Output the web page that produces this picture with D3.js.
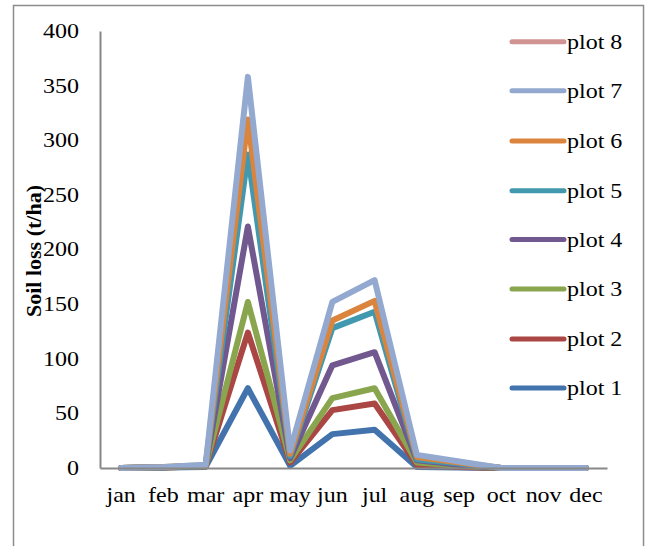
<!DOCTYPE html>
<html>
<head>
<meta charset="utf-8">
<script src="https://cdn.jsdelivr.net/npm/d3@7"></script>
<style>
  body { margin: 0; background: #fff; }
  text { font-family: "Liberation Serif", "Times New Roman", serif; }
</style>
</head>
<body>
<svg width="647" height="546"></svg>
<script>
const months = ["jan", "feb", "mar", "apr", "may", "jun", "jul", "aug", "sep", "oct", "nov", "dec"];
const seriesNames = ["plot 1", "plot 2", "plot 3", "plot 4", "plot 5", "plot 6", "plot 7", "plot 8"];
const colors = ["#4373AC", "#AA4643", "#89A54E", "#71588F", "#4198AF", "#DB843D", "#93A9CF", "#D19392"];
const yTicks = [0, 50, 100, 150, 200, 250, 300, 350, 400];

const plot1 = [0, 0.5, 1, 73, 2, 31, 35, 1, 0.5, 0, 0, 0];
const plot2 = [0, 0.5, 1.5, 124, 5, 53, 59, 3, 1, 0, 0, 0];
const plot3 = [0, 0.5, 1.5, 152, 7, 64, 73, 5, 2, 0, 0, 0];
const plot4 = [0, 0.8, 2, 221, 9, 94, 106, 7, 3, 0, 0, 0];
const plot5 = [0, 0.8, 2, 287, 11, 128, 143, 8, 4, 0, 0, 0];
const plot6 = [0, 1, 2.5, 319, 13, 135, 153, 10, 5, 0, 0, 0];
const plot7 = [0, 1, 3, 358, 16, 152, 172, 12, 6, 0, 0, 0];
const plot8 = []; // in legend, no visible line

const allSeries = [plot1, plot2, plot3, plot4, plot5, plot6, plot7, plot8];

const svg = d3.select("svg");
const margin = { top: 31, left: 100, right: 607, bottom: 468 };
const stretch = "scale(1.2,1)"; // text in the picture is a bit wide

// outer frame
svg.append("rect")
  .attr("x", 13.5).attr("y", 5.5)
  .attr("width", 630).attr("height", 560)
  .attr("fill", "none")
  .attr("stroke", "#8c8c8c")
  .attr("stroke-width", 1.5);

const x = d3.scaleBand().domain(months).range([margin.left, margin.right]);
const y = d3.scaleLinear().domain([0, 400]).range([margin.bottom, margin.top]);

// y axis
const yAxis = svg.append("g")
  .attr("transform", `translate(${margin.left},0)`)
  .call(d3.axisLeft(y).tickValues(yTicks).tickSize(0));
yAxis.select(".domain").attr("stroke", "#888").attr("stroke-width", 2);
yAxis.selectAll("text")
  .attr("x", 0)
  .attr("transform", `translate(-21,0) ${stretch}`)
  .attr("font-size", 20)
  .attr("fill", "#000")
  .style("font-family", "'Liberation Serif', serif");

// y title
svg.append("text")
  .attr("transform", "translate(41,251) rotate(-90)")
  .attr("text-anchor", "middle")
  .attr("font-size", 22)
  .attr("font-weight", "bold")
  .text("Soil loss (t/ha)");

// lines
const line = d3.line()
  .x((d, i) => x(months[i]) + x.bandwidth() / 2)
  .y(d => y(d));

allSeries.forEach((vals, i) => {
  if (!vals.length) return;
  svg.append("path")
    .datum(vals)
    .attr("d", line)
    .attr("fill", "none")
    .attr("stroke", colors[i])
    .attr("stroke-width", 6)
    .attr("stroke-linejoin", "round")
    .attr("stroke-linecap", "round");
});

// x axis (drawn over lines)
const xAxis = svg.append("g")
  .attr("transform", `translate(0,${margin.bottom})`)
  .call(d3.axisBottom(x).tickSize(0).tickPadding(20).tickSizeOuter(0));
xAxis.select(".domain").attr("stroke", "#888").attr("stroke-width", 2);
xAxis.selectAll("text")
  .attr("transform", stretch)
  .attr("font-size", 20)
  .attr("fill", "#000")
  .style("font-family", "'Liberation Serif', serif");
xAxis.selectAll(".tick text").each(function () {
  // scale around tick centre
  d3.select(this).attr("transform", stretch);
});

// legend, plot 8 on top
const legendY = [41.7, 90.7, 141, 190.7, 239.5, 289, 339, 388];
const legend = svg.append("g");
seriesNames.slice().reverse().forEach((name, k) => {
  const i = seriesNames.length - 1 - k;
  const g = legend.append("g").attr("transform", `translate(0,${legendY[k]})`);
  g.append("line")
    .attr("x1", 512).attr("x2", 564)
    .attr("stroke", colors[i])
    .attr("stroke-width", 5)
    .attr("stroke-linecap", "round");
  g.append("text")
    .attr("transform", `translate(567,0) ${stretch}`)
    .attr("dy", "0.35em")
    .attr("font-size", 20)
    .text(name);
});
</script>
</body>
</html>
